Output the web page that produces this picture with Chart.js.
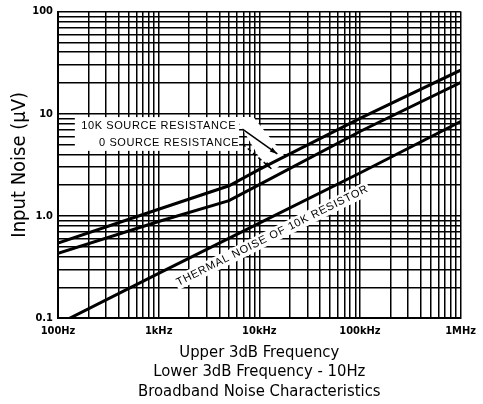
<!DOCTYPE html>
<html>
<head>
<meta charset="utf-8">
<script src="https://cdn.jsdelivr.net/npm/chart.js@4/dist/chart.umd.min.js"></script>
<style>
  html, body { margin: 0; padding: 0; background: #fff; }
  #wrap { width: 483px; height: 404px; }
</style>
</head>
<body>
<div id="wrap"><canvas id="chart"></canvas></div>
<script>
// values (Hz / uV)
var freqs = [100, 1000, 5000, 10000, 100000, 1000000];
var noise10k = [0.54, 1.16, 1.97, 2.85, 9.0, 26.7];
var noise0 = [0.43, 0.88, 1.41, 2.02, 6.7, 20.2];
var thermalFreqs = [100, 1000, 10000, 100000, 1000000];
var thermalNoise = [0.087, 0.274, 0.85, 2.63, 8.4];

var xDecades = [100, 1000, 10000, 100000, 1000000];
var xTickLabels = ['100Hz', '1kHz', '10kHz', '100kHz', '1MHz'];
var yDecades = [0.1, 1, 10, 100];
var yTickLabels = ['0.1', '1.0', '10', '100'];

var labelFont = "'DejaVu Sans Condensed', 'Liberation Sans Narrow', sans-serif";

function pts(xs, ys) {
    return xs.map((x, i) => ({x: x, y: ys[i]}));
}

// 1..9 on every decade, for the grid
function logTicks(decades) {
    let t = [];
    decades.forEach((d, i) => {
        if (i === decades.length - 1) { t.push({value: d}); return; }
        for (let m = 1; m < 10; m++) t.push({value: d * m});
    });
    return t;
}

var notes = {
    id: 'notes',
    beforeDatasetsDraw(chart) {
        const ctx = chart.ctx;
        const sx = chart.scales.x, sy = chart.scales.y;
        const p = (f, v) => [sx.getPixelForValue(f), sy.getPixelForValue(v)];
        ctx.save();
        ctx.fillStyle = '#fff';
        // box behind the two source labels
        let a = p(147, 9.27), b = p(6300, 4.33);
        ctx.fillRect(a[0], a[1], b[0] - a[0], b[1] - a[1]);
        // band behind the arrows
        let band = [p(5780, 9.27), p(8730, 9.27), p(18900, 3.61), p(12600, 2.52)];
        ctx.beginPath();
        ctx.moveTo(band[0][0], band[0][1]);
        band.slice(1).forEach(q => ctx.lineTo(q[0], q[1]));
        ctx.closePath();
        ctx.fill();
        // thermal label background
        let c = p(13500, 0.64);
        let l1 = p(1000, 0.274), l2 = p(100000, 2.63);
        let ang = Math.atan2(l2[1] - l1[1], l2[0] - l1[0]);
        ctx.translate(c[0], c[1]);
        ctx.rotate(ang);
        ctx.fillRect(-108, -7, 216, 14);
        ctx.restore();
    },
    afterDatasetsDraw(chart) {
        const ctx = chart.ctx;
        const sx = chart.scales.x, sy = chart.scales.y;
        const p = (f, v) => [sx.getPixelForValue(f), sy.getPixelForValue(v)];
        ctx.save();
        ctx.fillStyle = '#000';
        ctx.strokeStyle = '#000';
        ctx.font = "11px 'Liberation Sans', sans-serif";
        ctx.letterSpacing = '0.6px';
        ctx.textAlign = 'center';
        ctx.textBaseline = 'middle';
        let t1 = p(1000, 7.57), t2 = p(1270, 5.18);
        ctx.fillText('10K SOURCE RESISTANCE', t1[0], t1[1]);
        ctx.fillText('0 SOURCE RESISTANCE', t2[0], t2[1]);

        function arrow(from, to, dashed) {
            ctx.lineWidth = 1.5;
            ctx.setLineDash(dashed ? [4, 3] : []);
            ctx.beginPath();
            ctx.moveTo(from[0], from[1]);
            ctx.lineTo(to[0], to[1]);
            ctx.stroke();
            ctx.setLineDash([]);
            let an = Math.atan2(to[1] - from[1], to[0] - from[0]);
            ctx.beginPath();
            ctx.moveTo(to[0], to[1]);
            ctx.lineTo(to[0] - 8 * Math.cos(an - 0.3), to[1] - 8 * Math.sin(an - 0.3));
            ctx.lineTo(to[0] - 8 * Math.cos(an + 0.3), to[1] - 8 * Math.sin(an + 0.3));
            ctx.closePath();
            ctx.fill();
        }
        arrow(p(6800, 7.06), p(15100, 4.04), false);
        arrow(p(6800, 5.06), p(13200, 2.89), true);

        let c = p(13500, 0.64);
        let l1 = p(1000, 0.274), l2 = p(100000, 2.63);
        ctx.translate(c[0], c[1]);
        ctx.rotate(Math.atan2(l2[1] - l1[1], l2[0] - l1[0]));
        ctx.letterSpacing = '0.8px';
        ctx.fillText('THERMAL NOISE OF 10K RESISTOR', 0, 0);
        ctx.restore();
    }
};

var lineStyle = {borderColor: '#000', borderWidth: 3, pointRadius: 0, tension: 0, fill: false};

new Chart(document.getElementById('chart'), {
    type: 'line',
    data: {
        datasets: [
            Object.assign({label: '10K source resistance', data: pts(freqs, noise10k)}, lineStyle),
            Object.assign({label: '0 source resistance', data: pts(freqs, noise0)}, lineStyle),
            Object.assign({label: 'Thermal noise of 10K resistor', data: pts(thermalFreqs, thermalNoise)}, lineStyle)
        ]
    },
    options: {
        responsive: true,
        maintainAspectRatio: false,
        animation: false,
        layout: {padding: {top: 10, right: 21, bottom: 0, left: 0}},
        plugins: {legend: {display: false}, tooltip: {enabled: false}},
        scales: {
            x: {
                type: 'logarithmic',
                min: 100,
                max: 1000000,
                afterBuildTicks: s => { s.ticks = logTicks(xDecades); },
                afterFit: s => { s.height = 86; },
                grid: {color: '#000', lineWidth: 1.5, drawTicks: false},
                border: {color: '#000', width: 2},
                ticks: {
                    autoSkip: false, maxRotation: 0, padding: 7, color: '#000',
                    font: {family: labelFont, size: 11, weight: 'bold'},
                    callback: v => { let i = xDecades.indexOf(v); return i >= 0 ? xTickLabels[i] : ''; }
                },
                title: {
                    display: true,
                    text: ['Upper 3dB Frequency', 'Lower 3dB Frequency - 10Hz', 'Broadband Noise Characteristics'],
                    color: '#000',
                    font: {family: labelFont, size: 16.5, lineHeight: 1.18},
                    padding: {top: 0, bottom: 3}
                }
            },
            y: {
                type: 'logarithmic',
                min: 0.1,
                max: 100,
                afterBuildTicks: s => { s.ticks = logTicks(yDecades); },
                afterFit: s => { s.width = 58; },
                grid: {color: '#000', lineWidth: 1.5, drawTicks: false},
                border: {color: '#000', width: 2},
                ticks: {
                    autoSkip: false, padding: 5, color: '#000',
                    font: {family: labelFont, size: 11, weight: 'bold'},
                    callback: v => { let i = yDecades.indexOf(v); return i >= 0 ? yTickLabels[i] : ''; }
                },
                title: {
                    display: true,
                    text: 'Input Noise (\u03BCV)',
                    color: '#000',
                    font: {family: labelFont, size: 20, lineHeight: 1.2},
                    padding: {top: 8, bottom: 0}
                }
            }
        }
    },
    plugins: [notes]
});
</script>
</body>
</html>
